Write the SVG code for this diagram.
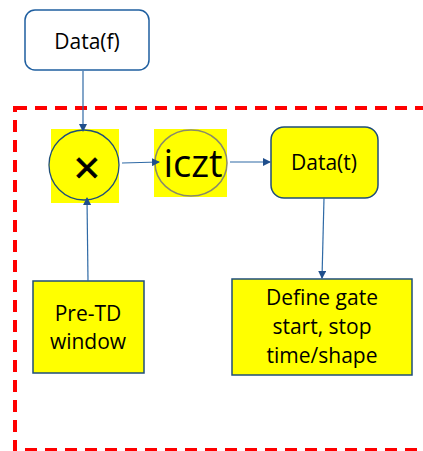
<svg xmlns="http://www.w3.org/2000/svg" width="423" height="451" viewBox="0 0 423 451">
<style>
.t{font-family:"Open Sans","Liberation Sans",sans-serif;fill:#000;text-anchor:middle}
.c{stroke:#2f6aa6;stroke-width:1.2;fill:none}
.y{fill:#ffff00}
.bx{fill:#ffff00;stroke:#1f4e79;stroke-width:1.5}
</style>
<defs>
<marker id="a" markerWidth="8" markerHeight="8" refX="7" refY="4" orient="auto" markerUnits="userSpaceOnUse">
<path d="M0,0 L8,4 L0,8 Z" fill="#1f4e8c"/>
</marker>
</defs>
<rect x="15" y="108" width="420" height="342" fill="none" stroke="#ff0000" stroke-width="4" stroke-dasharray="12,8"/>
<g id="dataf">
<rect x="25" y="10" width="124" height="60" rx="10" fill="#fff" stroke="#1f5fa0" stroke-width="1.5"/>
<text class="t" x="87" y="49" font-size="21">Data(f)</text>
</g>
<g id="mult">
<rect class="y" x="51" y="129" width="68" height="74"/>
<ellipse cx="84" cy="165" rx="35" ry="35" fill="#ffff00" stroke="#1f4e79" stroke-width="1.3"/>
<text class="t" x="87" y="184" font-size="46" stroke="#000" stroke-width="0.8">×</text>
</g>
<g id="iczt">
<rect class="y" x="154" y="129" width="73" height="68"/>
<ellipse cx="191" cy="163" rx="36" ry="33" fill="#ffff00" stroke="#8a8a6a" stroke-width="1.5"/>
<text class="t" x="193" y="177" font-size="38">iczt</text>
</g>
<g id="datat">
<rect class="bx" x="271" y="127" width="107" height="71" rx="13"/>
<text class="t" x="324" y="170" font-size="21">Data(t)</text>
</g>
<g id="pretd">
<rect class="bx" x="33" y="281" width="111" height="92"/>
<text class="t" x="88" y="321" font-size="21">Pre-TD</text>
<text class="t" x="88" y="349" font-size="21">window</text>
</g>
<g id="gate">
<rect class="bx" x="232" y="279" width="180" height="96"/>
<text class="t" x="322" y="305" font-size="21">Define gate</text>
<text class="t" x="322" y="334" font-size="21">start, stop</text>
<text class="t" x="322" y="363" font-size="21">time/shape</text>
</g>
<g id="connectors">
<line class="c" x1="83" y1="71" x2="83" y2="131" marker-end="url(#a)"/>
<line class="c" x1="88" y1="281" x2="87" y2="198" marker-end="url(#a)"/>
<line class="c" x1="122" y1="163" x2="159" y2="162" marker-end="url(#a)"/>
<line class="c" x1="230" y1="162" x2="270" y2="162" marker-end="url(#a)"/>
<line class="c" x1="324" y1="198" x2="322" y2="278" marker-end="url(#a)"/>
</g>
</svg>
